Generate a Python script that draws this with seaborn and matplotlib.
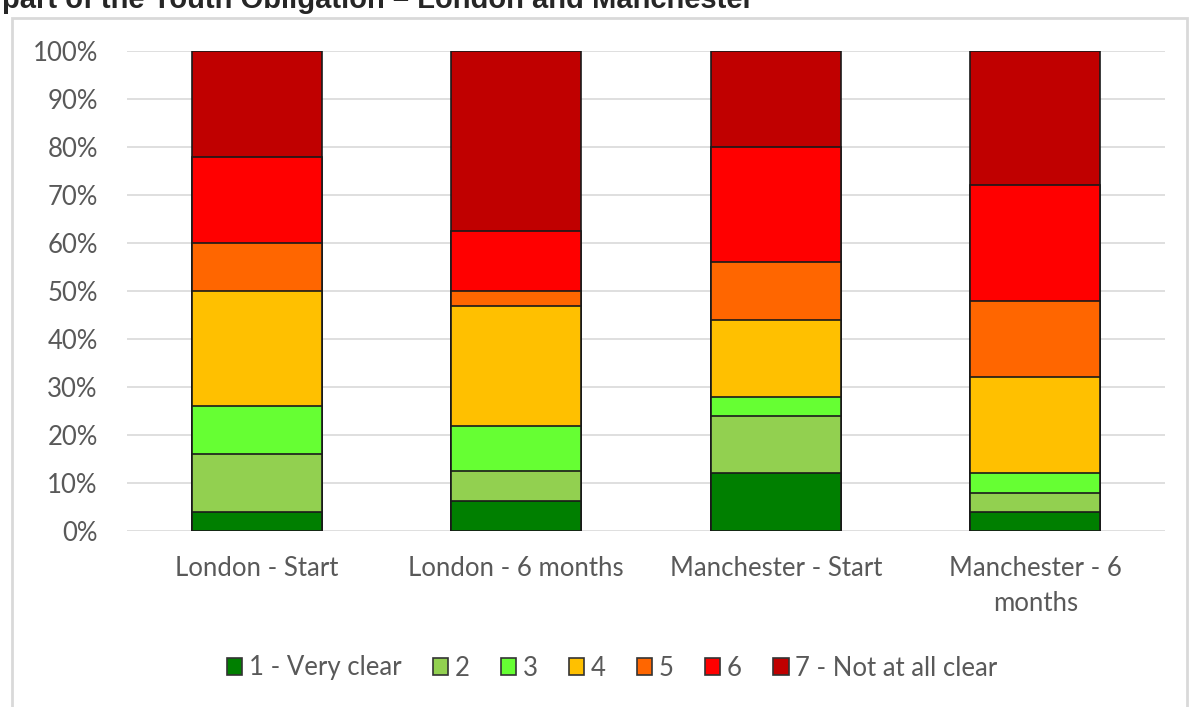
import numpy as np
import pandas as pd
import matplotlib
matplotlib.use('Agg')
import matplotlib.pyplot as plt
import seaborn as sns
from matplotlib.patches import Patch, Rectangle
from matplotlib.ticker import PercentFormatter

# data (percent of respondents per rating)
groups = ['London - Start', 'London - 6 months', 'Manchester - Start', 'Manchester - 6\nmonths']
ratings = ['1 - Very clear', '2', '3', '4', '5', '6', '7 - Not at all clear']
r1 = [4, 6.25, 12, 4]
r2 = [12, 6.25, 12, 4]
r3 = [10, 9.375, 4, 4]
r4 = [24, 25, 16, 20]
r5 = [10, 3.125, 12, 16]
r6 = [18, 12.5, 24, 24]
r7 = [22, 37.5, 20, 28]
colours = ['#007F00', '#92D050', '#66FF33', '#FFC000', '#FF6600', '#FF0000', '#C00000']

sns.set_style('white')
plt.rcParams['font.family'] = ['Lato', 'DejaVu Sans']

df = pd.DataFrame([r1, r2, r3, r4, r5, r6, r7], index=ratings, columns=groups).T
cum = df.cumsum(axis=1)

fig = plt.figure(figsize=(11.9, 7.07), dpi=100)
ax = fig.add_axes([127/1190, 1-531/707, (1165-127)/1190, (531-51)/707])

# stacked bars: draw cumulative totals from top layer down
for rating, c in reversed(list(zip(ratings, colours))):
    sns.barplot(x=list(cum.index), y=cum[rating].values, color=c, width=0.5,
                edgecolor='#1a1a1a', linewidth=1.2, saturation=1, ax=ax)

ax.set_ylim(0, 100)
ax.set_xlim(-0.5, 3.5)
ax.set_yticks(np.arange(0, 101, 10))
ax.yaxis.set_major_formatter(PercentFormatter(decimals=0))
ax.yaxis.grid(True, color='#D9D9D9', linewidth=1.2)
ax.set_axisbelow(True)
for s in ax.spines.values():
    s.set_visible(False)
ax.tick_params(axis='both', length=0, labelsize=18.5, colors='#595959')
ax.tick_params(axis='y', pad=21)
ax.tick_params(axis='x', pad=18)
for t in ax.get_xticklabels():
    t.set_linespacing(1.5)
ax.set_xlabel('')
ax.set_ylabel('')

handles = [Patch(facecolor=c, edgecolor='#333333', linewidth=1.2, label=r) for r, c in zip(ratings, colours)]
leg = fig.legend(handles=handles, loc='center', bbox_to_anchor=(612/1190, 1-668/707), ncol=7,
                 frameon=False, fontsize=18.5, handlelength=0.6, handleheight=0.6,
                 handletextpad=0.25, columnspacing=1.22)
for t in leg.get_texts():
    t.set_color('#595959')

# chart border and clipped title
fig.patches.append(Rectangle((12/1190, -0.05), (1187-12)/1190, 1-18/707+0.05,
                             transform=fig.transFigure, fill=False, edgecolor='#D9D9D9', linewidth=2))
fig.text(2/1190, 1-8/707, 'part of the Youth Obligation \u2013 London and Manchester',
         fontsize=21, fontweight='bold', family=['Liberation Sans', 'DejaVu Sans'], va='baseline')

fig.savefig('out.png', dpi=100)
